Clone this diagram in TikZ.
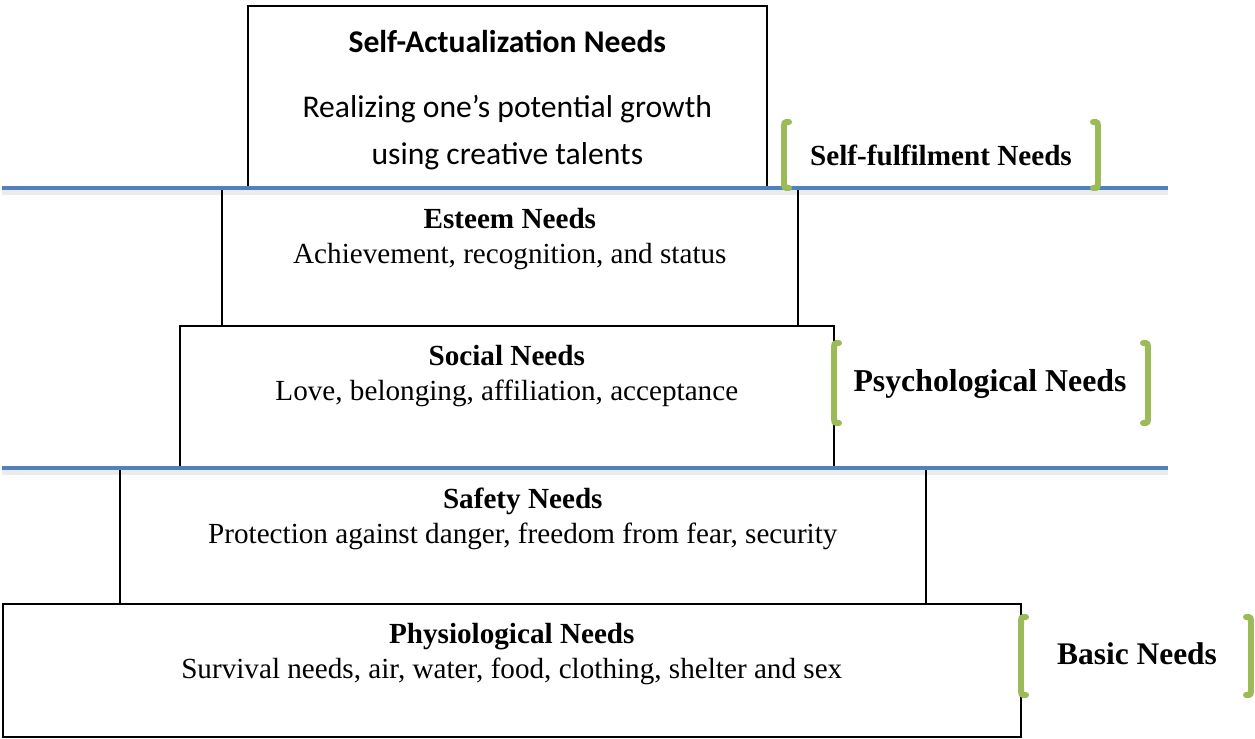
\documentclass[tikz,border=0pt]{standalone}
\usepackage{fontspec}
\setmainfont{Liberation Serif}
\newfontfamily\calibrifont{Carlito}
\usepackage{xcolor}
\usepackage{tikz}
\usetikzlibrary{positioning,calc}

\definecolor{lineblue}{HTML}{4F81BD}
\definecolor{bracketgreen}{HTML}{9BBB59}

\tikzset{
    needbox/.style={draw, line width=1pt, anchor=north west, inner sep=0pt},
    needtext/.style={inner sep=0pt, align=center, font=\fontsize{16.6}{19.8}\selectfont},
    sahead/.style={inner sep=0pt, font=\calibrifont\fontsize{18}{22}\selectfont\bfseries},
    sabodytext/.style={inner sep=0pt, align=center, font=\calibrifont\fontsize{18}{26.6}\selectfont},
    divider/.style={line width=2.8pt, lineblue},
    divshadow/.style={line width=3.5pt, black, opacity=0.08},
    bracketline/.style={line width=3.4pt, bracketgreen, line cap=round},
    grouplabel/.style={inner sep=0pt, anchor=base, font=\fontsize{16.6}{19.8}\selectfont\bfseries}
}

\begin{document}
\begin{tikzpicture}[x=0.02cm, y=-0.02cm]
    \useasboundingbox (0,0) rectangle (1255,738);

    % levels of the pyramid
    \node[needbox, minimum width=10.38cm, minimum height=3.66cm] (selfact) at (247,5) {};
    \node[needbox, minimum width=11.52cm, minimum height=2.74cm] (esteem) at (221,188) {};
    \node[needbox, minimum width=13.08cm, minimum height=2.86cm] (social) at (179,325) {};
    \node[needbox, minimum width=16.12cm, minimum height=2.70cm] (safety) at (119,468) {};
    \node[needbox, minimum width=20.36cm, minimum height=2.66cm] (physio) at (2,603) {};

    \node[sahead, below=0.5cm of selfact.north] (satitle) {Self-Actualization Needs};
    \node[sabodytext, below=0.84cm of satitle] (sabody) {Realizing one’s potential growth\\using creative talents};
    \node[needtext, below=0.4cm of esteem.north] (esteemtxt) {\textbf{Esteem Needs}\\Achievement, recognition, and status};
    \node[needtext, below=0.4cm of social.north] (socialtxt) {\textbf{Social Needs}\\Love, belonging, affiliation, acceptance};
    \node[needtext, below=0.4cm of safety.north] (safetytxt) {\textbf{Safety Needs}\\Protection against danger, freedom from fear, security};
    \node[needtext, below=0.4cm of physio.north] (physiotxt) {\textbf{Physiological Needs}\\Survival needs, air, water, food, clothing, shelter and sex};

    % dividing lines
    \coordinate (upperL) at (2,188);
    \coordinate (upperR) at (1168,188);
    \coordinate (lowerL) at (2,468);
    \coordinate (lowerR) at (1168,468);
    \draw[divshadow] ([yshift=-0.07cm]upperL) -- ([yshift=-0.07cm]upperR);
    \draw[divshadow] ([yshift=-0.07cm]lowerL) -- ([yshift=-0.07cm]lowerR);
    \draw[divider] (upperL) -- (upperR);
    \draw[divider] (lowerL) -- (lowerR);

    % groups
    \draw[bracketline] (789,122) .. controls (784,122) .. (784,130) -- (784,180) .. controls (784,188) .. (789,188);
    \draw[bracketline] (1093,122) .. controls (1098,122) .. (1098,130) -- (1098,180) .. controls (1098,188) .. (1093,188);
    \node[grouplabel] (fulfil) at (941,165) {Self-fulfilment Needs};

    \draw[bracketline] (839,343) .. controls (834,343) .. (834,351) -- (834,415) .. controls (834,423) .. (839,423);
    \draw[bracketline] (1143,343) .. controls (1148,343) .. (1148,351) -- (1148,415) .. controls (1148,423) .. (1143,423);
    \node[grouplabel, font=\fontsize{18.1}{21.7}\selectfont\bfseries] (psych) at (990,391) {Psychological Needs};

    \draw[bracketline] (1026,617) .. controls (1021,617) .. (1021,625) -- (1021,687) .. controls (1021,695) .. (1026,695);
    \draw[bracketline] (1246,617) .. controls (1251,617) .. (1251,625) -- (1251,687) .. controls (1251,695) .. (1246,695);
    \node[grouplabel, font=\fontsize{17.9}{21.5}\selectfont\bfseries] (basic) at (1137,664) {Basic Needs};
\end{tikzpicture}
\end{document}
